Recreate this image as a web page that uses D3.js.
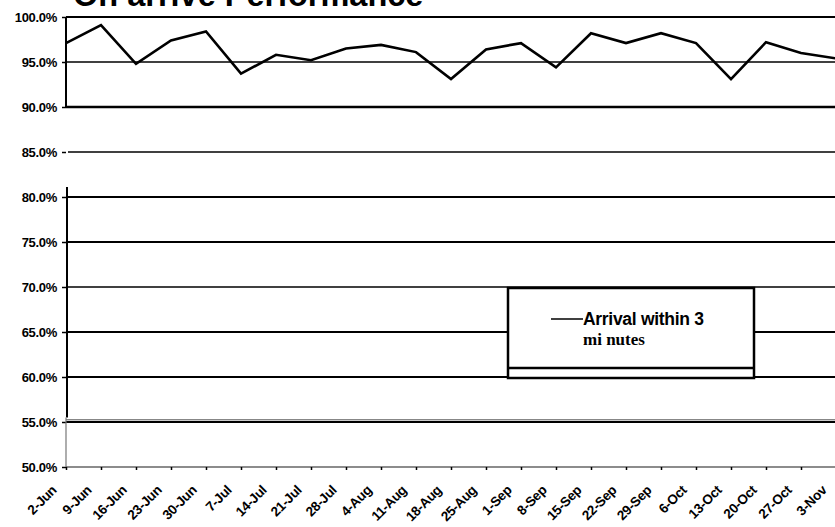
<!DOCTYPE html>
<html><head><meta charset="utf-8">
<script src="https://cdn.jsdelivr.net/npm/d3@7"></script>
<style>html,body{margin:0;padding:0;background:#fff;overflow:hidden}svg{display:block}</style>
</head><body>
<script>
const categories = ["2-Jun","9-Jun","16-Jun","23-Jun","30-Jun","7-Jul","14-Jul","21-Jul","28-Jul","4-Aug","11-Aug","18-Aug","25-Aug","1-Sep","8-Sep","15-Sep","22-Sep","29-Sep","6-Oct","13-Oct","20-Oct","27-Oct","3-Nov"];
const arrivalWithin3 = [97.1,99.1,94.8,97.4,98.4,93.7,95.8,95.2,96.5,96.9,96.1,93.1,96.4,97.1,94.4,98.2,97.1,98.2,97.1,93.1,97.2,96.0,95.4];
const yTicks = [50,55,60,65,70,75,80,85,90,95,100];
const title = "On arrive Performance";
const seriesName = ["Arrival within 3", "mi nutes"];

const W = 835, H = 527;
const svg = d3.select("body").append("svg").attr("width", W).attr("height", H);
const x = d3.scalePoint().domain(categories).range([66, 836]);
const y = d3.scaleLinear().domain([50, 100]).range([467, 17]);

// title (cropped at top)
svg.append("text").attr("x", 73).attr("y", 6)
  .attr("font-family", "Liberation Sans, Arial, sans-serif").attr("font-weight", "bold")
  .attr("font-size", 32.5).text(title);

// gridlines
const gridStyle = {100:2, 95:1.5, 90:2.5, 85:1.6, 80:1.8, 75:1.8, 70:1.6, 65:2, 60:2, 55:2};
yTicks.filter(t => t > 50).forEach(t => {
  const x0 = t === 85 ? 68 : 66;
  svg.append("line").attr("x1", x0).attr("x2", W).attr("y1", y(t)).attr("y2", y(t))
    .attr("stroke", "#000").attr("stroke-width", gridStyle[t]);
});
// double line at 55%
svg.append("line").attr("x1", 66).attr("x2", W).attr("y1", y(55) - 2.2).attr("y2", y(55) - 2.2)
  .attr("stroke", "#555").attr("stroke-width", 1);

// y axis
const yAxis = d3.axisLeft(y).tickValues(yTicks).tickSize(4).tickFormat(d => d3.format(".1f")(d) + "%");
const ya = svg.append("g").attr("transform", "translate(66,0)").call(yAxis);
ya.select(".domain").remove();
ya.selectAll("text").attr("font-family", "Liberation Sans, Arial, sans-serif").attr("font-weight", "bold")
  .attr("font-size", 13).attr("fill", "#000").attr("dx", -2).attr("letter-spacing", -0.3);
ya.selectAll("line").attr("stroke", "#000").attr("stroke-width", 1.5);
// axis line segments (gap between 90% and ~81%)
svg.append("line").attr("x1", 66).attr("x2", 66).attr("y1", y(100)).attr("y2", y(90)).attr("stroke", "#000").attr("stroke-width", 2);
svg.append("line").attr("x1", 67).attr("x2", 67).attr("y1", y(81.1)).attr("y2", y(55.5)).attr("stroke", "#000").attr("stroke-width", 2);
svg.append("line").attr("x1", 66).attr("x2", 66).attr("y1", y(55.5)).attr("y2", y(50)).attr("stroke", "#777").attr("stroke-width", 1.2);

// x axis
const xAxis = d3.axisBottom(x).tickSize(3).tickSizeOuter(0);
const xa = svg.append("g").attr("transform", `translate(0,${y(50)})`).call(xAxis);
xa.select(".domain").attr("stroke", "#666").attr("stroke-width", 1.5).attr("d", `M66,0H${W}`);
xa.selectAll("line").attr("stroke", "#000").attr("stroke-width", 1.5);
xa.selectAll("text").attr("font-family", "Liberation Sans, Arial, sans-serif").attr("font-weight", "bold")
  .attr("font-size", 13.5).attr("fill", "#000").attr("letter-spacing", -0.3)
  .attr("text-anchor", "end").attr("y", 0).attr("dy", 0)
  .attr("transform", "translate(-9,24) rotate(-45)");

// series line
const line = d3.line().x((d, i) => x(categories[i])).y(d => y(d));
svg.append("path").datum(arrivalWithin3).attr("d", line)
  .attr("fill", "none").attr("stroke", "#000").attr("stroke-width", 2.6).attr("stroke-linejoin", "miter");

// legend box
const lg = svg.append("g");
lg.append("rect").attr("x", 508).attr("y", y(70) + 1).attr("width", 246).attr("height", y(60) - y(70))
  .attr("fill", "#fff").attr("stroke", "#000").attr("stroke-width", 2.5);
lg.append("line").attr("x1", 508).attr("x2", 754).attr("y1", y(61)).attr("y2", y(61)).attr("stroke", "#000").attr("stroke-width", 2.5);
lg.append("line").attr("x1", 551).attr("x2", 583).attr("y1", 319).attr("y2", 319).attr("stroke", "#000").attr("stroke-width", 1.5);
lg.append("text").attr("x", 583).attr("y", 325).attr("font-family", "Liberation Sans, Arial, sans-serif")
  .attr("font-weight", "bold").attr("font-size", 17.5).attr("letter-spacing", -0.3).text(seriesName[0]);
lg.append("text").attr("x", 583).attr("y", 345).attr("font-family", "Liberation Serif, Times New Roman, serif")
  .attr("font-weight", "bold").attr("font-size", 17).text(seriesName[1]);
</script>
</body></html>
